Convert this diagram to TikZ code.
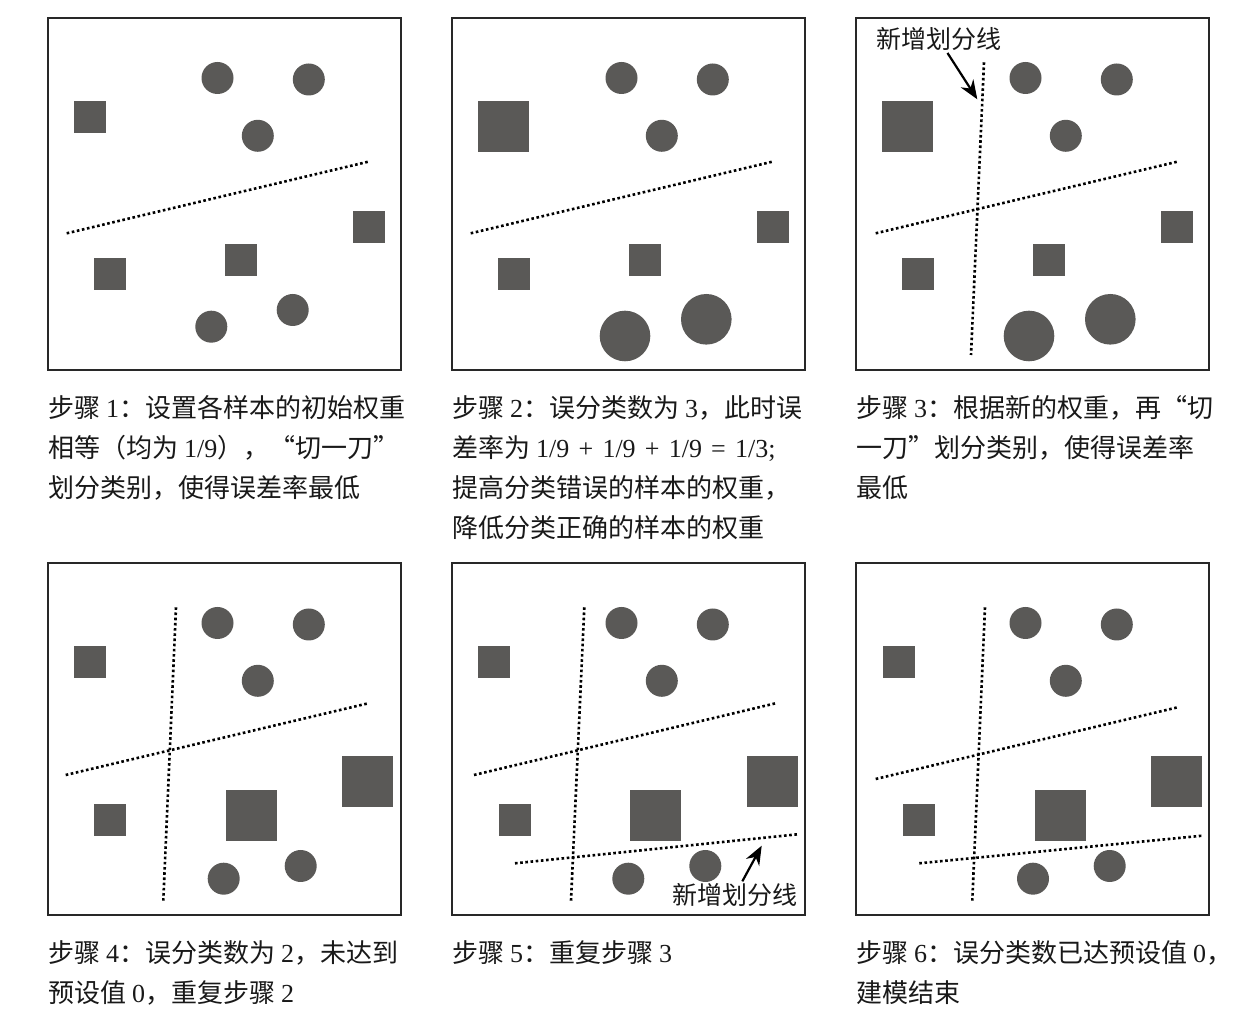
\documentclass[tikz,border=0pt]{standalone}
\usepackage{fontspec}
\setmainfont{Noto Sans CJK SC}
\newfontfamily\numfont{Liberation Serif}
\usetikzlibrary{arrows.meta}
\definecolor{shapegray}{RGB}{90,89,87}
\definecolor{framecol}{RGB}{40,40,40}
\definecolor{txtcol}{RGB}{25,25,25}
\newcommand{\nm}[1]{{\numfont #1}}
\newcommand{\opsp}{\hspace{4.6pt}}
\newcommand{\smpsq}[3]{\fill[sample] ({#1-#3/2},{#2-#3/2}) rectangle ({#1+#3/2},{#2+#3/2});}
\newcommand{\smpcirc}[3]{\fill[sample] (#1,#2) circle[radius=#3];}
\newcommand{\topcircles}{\smpcirc{169.5}{60}{8pt}\smpcirc{260.8}{61.5}{8pt}\smpcirc{209.8}{117.8}{8pt}}
\begin{document}
\begin{tikzpicture}[x=0.5pt,y=-0.5pt,
  frame/.style={draw=framecol,line width=1.2pt},
  sample/.style={fill=shapegray},
  cutline/.style={line width=1.3pt,dash pattern=on 1.3pt off 1.3pt,black},
  captxt/.style={anchor=base west,inner sep=0pt,font=\fontsize{13}{16}\selectfont,text=txtcol},
  lbl/.style={inner sep=1pt,font=\fontsize{12.5}{15}\selectfont,text=txtcol},
  pointer/.style={-{Stealth[length=9.5pt,width=7.5pt]},line width=1.1pt,black}]
\useasboundingbox (0,0) rectangle (1238,1020);
\fill[white] (0,0) rectangle (1238,1020);

% Panel 1
\begin{scope}[shift={(48,18)}]
\draw[frame] (0,0) rectangle (353,352);
\smpsq{41.7}{99}{32}
\topcircles
\draw[cutline] (18.7,215.3) -- (320.3,143.7);
\smpsq{321.3}{208.7}{32}\smpsq{62.2}{256}{32}\smpsq{193.3}{242.2}{32}
\smpcirc{163.3}{308.7}{8pt}\smpcirc{244.7}{292}{8pt}
\end{scope}

% Panel 2
\begin{scope}[shift={(452,18)}]
\draw[frame] (0,0) rectangle (353,352);
\smpsq{51.2}{108.5}{51}
\topcircles
\draw[cutline] (18.7,215.3) -- (320.3,143.7);
\smpsq{321.3}{208.7}{32}\smpsq{62.2}{256}{32}\smpsq{193.3}{242.2}{32}
\smpcirc{173}{318}{12.65pt}\smpcirc{254.3}{301.3}{12.65pt}
\end{scope}

% Panel 3
\begin{scope}[shift={(856,18)}]
\draw[frame] (0,0) rectangle (353,352);
\smpsq{51.2}{108.5}{51}
\topcircles
\draw[cutline] (19.7,215.3) -- (321.3,143.7);
\draw[cutline] (128,44.3) -- (115,337);
\smpsq{321.3}{208.7}{32}\smpsq{62.2}{256}{32}\smpsq{193.3}{242.2}{32}
\smpcirc{173}{318}{12.65pt}\smpcirc{254.3}{301.3}{12.65pt}
\node[lbl] (lbl3) at (82.5,21) {新增划分线};
\coordinate (tip3) at (121.3,81.3);
\draw[pointer] (lbl3) -- (tip3);
\end{scope}

% Panel 4
\begin{scope}[shift={(48,563)}]
\draw[frame] (0,0) rectangle (353,352);
\smpsq{41.7}{99.5}{32}
\topcircles
\draw[cutline] (128,44.3) -- (115.3,337.7);
\draw[cutline] (17.7,212) -- (320.3,140.3);
\smpsq{319.8}{218.8}{51}\smpsq{203.2}{252.5}{51}\smpsq{62.2}{256.7}{32}
\smpcirc{175.7}{315.7}{8pt}\smpcirc{252.7}{303}{8pt}
\end{scope}

% Panel 5
\begin{scope}[shift={(452,563)}]
\draw[frame] (0,0) rectangle (353,352);
\smpsq{42}{99.5}{32}
\topcircles
\draw[cutline] (132.3,44.3) -- (119,337.7);
\draw[cutline] (22,212) -- (323.7,140.3);
\draw[cutline] (63,300.3) -- (345.7,271.3);
\smpsq{320.2}{218.8}{51}\smpsq{203.8}{252.5}{51}\smpsq{63}{256.7}{32}
\smpcirc{176.3}{315.7}{8pt}\smpcirc{253.3}{303}{8pt}
\node[lbl] (lbl5) at (282.7,332.3) {新增划分线};
\coordinate (tip5) at (309.7,282.7);
\draw[pointer] (lbl5) -- (tip5);
\end{scope}

% Panel 6
\begin{scope}[shift={(856,563)}]
\draw[frame] (0,0) rectangle (353,352);
\smpsq{42.5}{99.5}{32}
\topcircles
\draw[cutline] (129,44.3) -- (116.3,337.7);
\draw[cutline] (19.7,216) -- (321.7,144.3);
\draw[cutline] (63.3,300.3) -- (346.3,272.7);
\smpsq{320.8}{218.8}{51}\smpsq{204.2}{252.7}{51}\smpsq{63.2}{256.7}{32}
\smpcirc{177}{315.7}{8pt}\smpcirc{253.7}{303}{8pt}
\end{scope}

% Captions row 1
\node[captxt] (c1a) at (48,418) {步骤 \nm{1}：设置各样本的初始权重};
\node[captxt] (c1b) at (48,458) {相等（均为 \nm{1/9}），“切一刀”};
\node[captxt] (c1c) at (48,498) {划分类别，使得误差率最低};
\node[captxt] (c2a) at (452,418) {步骤 \nm{2}：误分类数为 \nm{3}，此时误};
\node[captxt] (c2b) at (452,458) {差率为 \nm{1/9\opsp+\opsp1/9\opsp+\opsp1/9\opsp=\opsp1/3;}};
\node[captxt] (c2c) at (452,498) {提高分类错误的样本的权重，};
\node[captxt] (c2d) at (452,538) {降低分类正确的样本的权重};
\node[captxt] (c3a) at (856,418) {步骤 \nm{3}：根据新的权重，再“切};
\node[captxt] (c3b) at (856,458) {一刀”划分类别，使得误差率};
\node[captxt] (c3c) at (856,498) {最低};
% Captions row 2
\node[captxt] (c4a) at (48,963) {步骤 \nm{4}：误分类数为 \nm{2}，未达到};
\node[captxt] (c4b) at (48,1003) {预设值 \nm{0}，重复步骤 \nm{2}};
\node[captxt] (c5a) at (452,963) {步骤 \nm{5}：重复步骤 \nm{3}};
\node[captxt] (c6a) at (856,963) {步骤 \nm{6}：误分类数已达预设值 \nm{0}，};
\node[captxt] (c6b) at (856,1003) {建模结束};
\end{tikzpicture}
\end{document}
